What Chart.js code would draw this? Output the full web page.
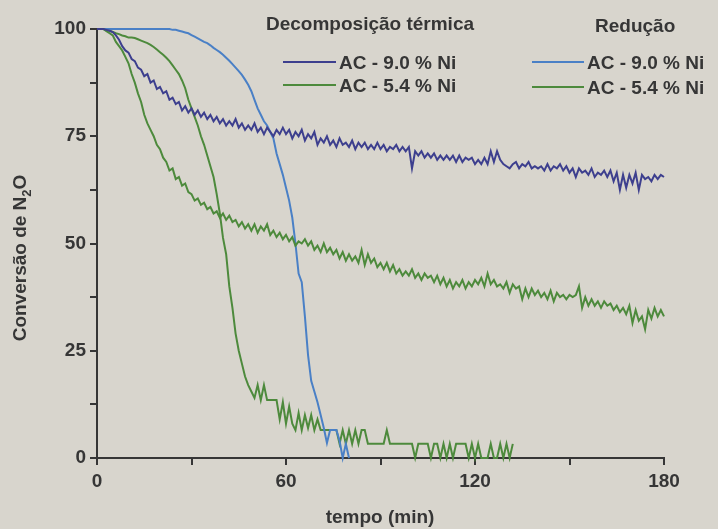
<!DOCTYPE html>
<html>
<head>
<meta charset="utf-8">
<script src="https://cdn.jsdelivr.net/npm/chart.js@4.4.1/dist/chart.umd.min.js"></script>
<style>
  html, body { margin: 0; padding: 0; background: #d8d5cd; overflow: hidden; }
  #wrap { width: 718px; height: 529px; position: relative; }
</style>
</head>
<body>
<div id="wrap"><canvas id="chart"></canvas></div>
<script>
// N2O conversion vs time, one reading per minute starting at t = 0
const sampleStep = 1; // min

// Decomposição térmica - AC 9.0 % Ni
const decomp90 = [
  100,100,100,99.8,99.6,99.3,98.5,97.5,96,95,
  94.5,93,92.5,91,90.5,89,89.5,87.5,88,86,
  86.5,85,85.5,83.5,84,82.5,83,81,82,80.5,
  81.5,80,81,79.5,80.5,79,80,78.5,79.5,78,
  79,77.5,78.5,77.5,79,77,78,76.5,77.5,76.5,
  78,76,77,75.5,77,76,75,76.5,75.5,77,
  75.5,76.5,74.5,76,75,76.5,74,75.5,74.5,76,
  73,74.5,73.5,75,73,74,72.5,74.5,73,73.5,
  72.5,74,72,73.5,72.5,73.5,72,73,72,73.5,
  72,73,71.5,72.5,72,73,71.5,72.5,71.5,72.5,
  67.5,71.5,70.5,71.5,70,71,70,71,69.5,70.5,
  69.5,70.5,69.5,70.5,69,70.5,69,70,69.5,70,
  68.5,69.5,68.5,70,68.5,71.5,69,71.5,69.5,68.5,
  68,67.5,68.5,69,67.5,68.5,68,69,67.5,68,
  67.5,68,67,68.5,67,68,67.5,68.5,67,68,
  66.5,67.5,65.5,67.5,66.5,67,66,67.5,65.5,66.5,
  66,67,65.5,67,64.5,66.5,62.5,66,63,66,
  64,66.5,62.5,66,65,65.5,64.5,66,65,66,
  65.5
];

// Decomposição térmica - AC 5.4 % Ni
const decomp54 = [
  100,100,100,99.5,99,98.5,97,96,95,93.5,
  92,89.5,87.5,85,83,80,78,76.5,75,73,
  72,70,69,67,67.5,65,65.5,63.5,64,62,
  61.5,60,60.5,59,59.5,58,58.5,57,57.5,56,
  57,55.5,56.5,55,55.5,54,55,53.5,54.5,53,
  54.5,52.5,54,53,54.5,52,53,51.5,52.5,51,
  52,50.5,51.5,49.5,50.5,50,51,49.5,50.5,48.5,
  49.5,48,50,48,49,47.5,48.5,46.5,48,46,
  47.5,46,47,45.5,48.5,45,47.5,45.5,46.5,44.5,
  45.5,44,45.5,43.5,45,43,44,42.5,43.5,42.5,
  44,42,43,41.5,43,42,42.5,41,42.5,40.5,
  42,40,41.5,39.5,41,40,41.5,39.5,41,40,
  41.5,40.5,42,40,43,40.5,41.5,40,40.5,39.5,
  41,38.5,40.5,39.5,40,37,39.5,37.5,39.5,38,
  39,37.5,38.5,37,39,36.5,38.5,37.5,38,37,
  38,37.5,38,40,35,37.5,35.5,37,35.5,36.5,
  35,36.5,35.5,36,34.5,35.5,34,35,33.5,35.5,
  31.5,34.5,32,33,30,34.5,32.5,35,33,34.5,
  33
];

// Redução - AC 9.0 % Ni
const reduc90 = [
  100,100,100,100,100,100,100,100,100,100,
  100,100,100,100,100,100,100,100,100,100,
  100,100,100,100,99.8,99.8,99.6,99.4,99.2,99,
  98.6,98.2,97.8,97.4,97,96.7,96.2,95.6,95.1,94.6,
  94,93.3,92.6,91.8,91,90.2,89.3,88.2,87,85.5,
  83.5,81.5,80,78.5,77.5,76,74.5,71,68.5,66,
  63,60,56,50,43,41,33,24,18,15.5,
  13,10,7,3.5,6.5,6.5,6.5,4,0,3.3,
  0
];

// Redução - AC 5.4 % Ni
const reduc54 = [
  100,100,100,99.8,99.6,99.3,99,98.8,98.5,98.3,
  98,98,97.9,97.6,97.3,97,96.7,96.3,95.8,95.2,
  94.6,94,93.3,92.5,91.5,90.5,89.5,88,86.2,83.5,
  81.5,79.5,77.5,75,73,70.5,68,65.5,61.5,57,
  51.3,47.5,40,35,29,25,22,19,17,15.5,
  14,17,13.5,17,13.5,13.5,13.5,13.5,9,13,
  8,12,8,6.5,10.5,6.5,10,7,10,6.5,
  9,6.5,6.5,6.5,6.5,6.5,6.5,3.3,6.5,3.3,
  6.5,3.3,6.5,3.3,6.5,6.5,3.3,3.3,3.3,3.3,
  3.3,3.3,6.5,3.3,3.3,3.3,3.3,3.3,3.3,3.3,
  3.3,0,3.3,3.3,3.3,3.3,0,3.3,3.3,0,
  3.3,0,3.3,0,3.3,3.3,3.3,3.3,0,3.3,
  0,3.3,0,0,0,3.3,0,0,3.3,0,
  3.3,0,3.3
];

const seriesLabels = ['AC - 9.0 % Ni', 'AC - 5.4 % Ni'];
const groupTitles = ['Decomposição térmica', 'Redução'];
const xTickLabels = [0, 60, 120, 180];
const yTickLabels = [0, 25, 50, 75, 100];
const xTitle = 'tempo (min)';

const darkBlue = '#3d3f8e';
const lightBlue = '#4a80c6';
const green = '#4d8a3c';
const inkColor = '#363636';
const bgColor = '#d8d5cd';
const fontFamily = '"Liberation Sans", Arial, sans-serif';

function toPoints(values) {
  return values.map((v, i) => ({ x: i * sampleStep, y: v }));
}

function makeDataset(label, values, color, group) {
  return {
    label: label,
    group: group,
    data: toPoints(values),
    borderColor: color,
    backgroundColor: color,
    borderWidth: 2,
    pointRadius: 0,
    tension: 0,
    clip: 6
  };
}

// background colour of the scanned page
const pagePlugin = {
  id: 'page',
  beforeDraw(chart) {
    const ctx = chart.ctx;
    ctx.save();
    ctx.fillStyle = bgColor;
    ctx.fillRect(0, 0, chart.width, chart.height);
    ctx.restore();
  }
};

// two column legend with group headings, plus axis titles
const annotPlugin = {
  id: 'annot',
  afterDraw(chart) {
    const ctx = chart.ctx;
    const sets = chart.data.datasets;
    ctx.save();
    ctx.fillStyle = inkColor;
    ctx.textBaseline = 'middle';
    ctx.font = 'bold 19px ' + fontFamily;

    // headings
    ctx.textAlign = 'left';
    ctx.fillText(groupTitles[0], 266, 25);
    ctx.fillText(groupTitles[1], 595, 27);

    const cols = [
      { group: 0, x0: 283, x1: 336, tx: 339, ys: [62, 85] },
      { group: 1, x0: 532, x1: 584, tx: 587, ys: [62, 87] }
    ];
    cols.forEach(col => {
      const items = sets.filter(d => d.group === col.group);
      items.forEach((d, i) => {
        const y = col.ys[i];
        ctx.strokeStyle = d.borderColor;
        ctx.lineWidth = 2;
        ctx.beginPath();
        ctx.moveTo(col.x0, y);
        ctx.lineTo(col.x1, y);
        ctx.stroke();
        ctx.fillStyle = inkColor;
        ctx.fillText(d.label, col.tx, y + 1.5);
      });
    });

    // x title
    ctx.textAlign = 'center';
    ctx.font = 'bold 19px ' + fontFamily;
    ctx.fillText(xTitle, 380, 518);

    // y title, rotated, with subscript in N2O
    ctx.translate(21, 258);
    ctx.rotate(-Math.PI / 2);
    const mainFont = 'bold 19px ' + fontFamily;
    const subFont = 'bold 13px ' + fontFamily;
    const a = 'Conversão de N', b = '2', c = 'O';
    ctx.font = mainFont;
    const wa = ctx.measureText(a).width, wc = ctx.measureText(c).width;
    ctx.font = subFont;
    const wb = ctx.measureText(b).width;
    let x = -(wa + wb + wc) / 2;
    ctx.textAlign = 'left';
    ctx.font = mainFont;
    ctx.fillText(a, x, 0);
    x += wa;
    ctx.font = subFont;
    ctx.fillText(b, x, 6);
    x += wb;
    ctx.font = mainFont;
    ctx.fillText(c, x, 0);
    ctx.restore();
  }
};

const config = {
  type: 'line',
  data: {
    datasets: [
      makeDataset(seriesLabels[0], decomp90, darkBlue, 0),
      makeDataset(seriesLabels[1], decomp54, green, 0),
      makeDataset(seriesLabels[0], reduc90, lightBlue, 1),
      makeDataset(seriesLabels[1], reduc54, green, 1)
    ]
  },
  options: {
    responsive: true,
    maintainAspectRatio: false,
    animation: false,
    layout: { padding: { top: 29, right: 54, bottom: 0, left: 0 } },
    plugins: {
      legend: { display: false },
      tooltip: { enabled: false }
    },
    scales: {
      x: {
        type: 'linear',
        min: 0,
        max: 180,
        afterFit: (scale) => { scale.height = 71; },
        border: { display: true, color: inkColor, width: 2 },
        grid: { drawOnChartArea: false, drawTicks: true, tickLength: 7, color: inkColor, lineWidth: 2 },
        ticks: {
          stepSize: 30,
          autoSkip: false,
          maxRotation: 0,
          padding: 5,
          color: inkColor,
          font: { family: fontFamily, size: 19, weight: 'bold' },
          callback: (v) => xTickLabels.includes(v) ? String(v) : ''
        }
      },
      y: {
        min: 0,
        max: 100,
        afterFit: (scale) => { scale.width = 97; },
        border: { display: true, color: inkColor, width: 2 },
        grid: { drawOnChartArea: false, drawTicks: true, tickLength: 7, color: inkColor, lineWidth: 2 },
        ticks: {
          stepSize: 12.5,
          autoSkip: false,
          padding: 4,
          color: inkColor,
          font: { family: fontFamily, size: 19, weight: 'bold' },
          callback: (v) => yTickLabels.includes(v) ? String(v) : ''
        }
      }
    }
  },
  plugins: [pagePlugin, annotPlugin]
};

new Chart(document.getElementById('chart').getContext('2d'), config);
</script>
</body>
</html>
